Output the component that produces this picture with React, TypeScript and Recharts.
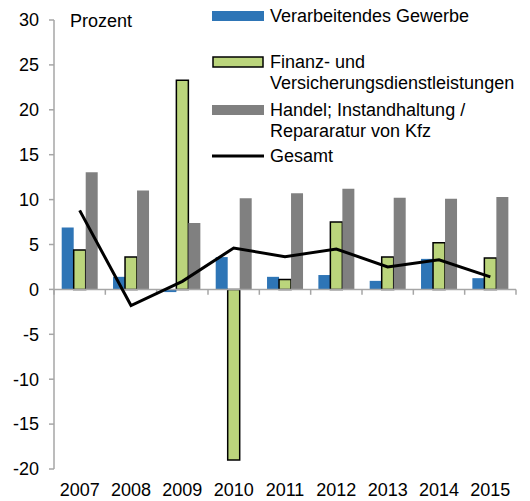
import {
  ComposedChart,
  Bar,
  Line,
  XAxis,
  YAxis,
  ReferenceLine,
} from 'recharts'

const years = ['2007', '2008', '2009', '2010', '2011', '2012', '2013', '2014', '2015']
const verarbeitend = [6.9, 1.4, -0.3, 3.6, 1.4, 1.6, 0.95, 3.4, 1.25]
const finanz = [4.4, 3.6, 23.3, -19.0, 1.1, 7.5, 3.6, 5.2, 3.5]
const handel = [13.05, 11.0, 7.4, 10.15, 10.7, 11.2, 10.2, 10.1, 10.3]
const gesamt = [8.8, -1.8, 0.9, 4.6, 3.65, 4.5, 2.5, 3.3, 1.4]
const yTicks = [-20, -15, -10, -5, 0, 5, 10, 15, 20, 25, 30]

const legendItems = [
  { key: 'verarbeitend', lines: ['Verarbeitendes Gewerbe'] },
  { key: 'finanz', lines: ['Finanz- und', 'Versicherungsdienstleistungen'] },
  { key: 'handel', lines: ['Handel; Instandhaltung /', 'Repararatur von Kfz'] },
  { key: 'gesamt', lines: ['Gesamt'] },
]

const BLUE = '#2E75B6'
const GREEN = '#BBD57C'
const GRAY = '#808080'
const AXIS = '#A6A6A6'
const FONT = 'Arial, "Liberation Sans", sans-serif'

const data = years.map((year, i) => ({
  year,
  verarbeitend: verarbeitend[i],
  finanz: finanz[i],
  handel: handel[i],
  gesamt: gesamt[i],
}))

// excel-style legend, placed by hand at the top right
const ChartLegend = () => {
  const rows = [16, 62, 110, 156]
  return (
    <svg
      width={530}
      height={180}
      style={{ position: 'absolute', left: 0, top: 0, pointerEvents: 'none' }}
    >
      <text x={70} y={27} fontSize={18} fill="#000" fontFamily={FONT}>Prozent</text>
      {legendItems.map((item, i) => {
        const cy = rows[i]
        let swatch
        if (item.key === 'gesamt') {
          swatch = <line x1={212} x2={264} y1={cy} y2={cy} stroke="#000" strokeWidth={3} />
        } else if (item.key === 'finanz') {
          swatch = <rect x={213} y={cy - 5} width={50} height={10} fill={GREEN} stroke="#000" strokeWidth={1.5} />
        } else {
          swatch = <rect x={212} y={cy - 5} width={52} height={10} fill={item.key === 'handel' ? GRAY : BLUE} />
        }
        return (
          <g key={item.key}>
            {swatch}
            {item.lines.map((ln, j) => (
              <text key={j} x={270} y={cy + 6 + j * 21} fontSize={18} fill="#000" fontFamily={FONT}>
                {ln}
              </text>
            ))}
          </g>
        )
      })}
    </svg>
  )
}

export default function App() {
  return (
    <div style={{ position: 'absolute', left: 0, top: 0, width: 530, height: 501, background: '#fff' }}>
      <ComposedChart
        width={530}
        height={501}
        data={data}
        margin={{ top: 20, right: 14, bottom: 0, left: 0 }}
        barGap={0}
        barCategoryGap="15%"
      >
        <XAxis
          dataKey="year"
          axisLine={false}
          tickLine={false}
          tickSize={6}
          tickMargin={8}
          height={32}
          interval={0}
          tick={{ fill: '#000', fontSize: 18, fontFamily: FONT }}
        />
        <YAxis
          domain={[-20, 30]}
          ticks={yTicks}
          width={54}
          interval={0}
          axisLine={{ stroke: AXIS, strokeWidth: 1.5 }}
          tickLine={{ stroke: AXIS, strokeWidth: 1.5 }}
          tickSize={5}
          tickMargin={10}
          tick={{ fill: '#000', fontSize: 18, fontFamily: FONT }}
        />
        <ReferenceLine y={0} stroke={AXIS} strokeWidth={1.5} />
        {years.map((y) => (
          <ReferenceLine
            key={y}
            segment={[{ x: y, y: 0 }, { x: y, y: -0.6 }]}
            position="start"
            stroke={AXIS}
            strokeWidth={1.5}
          />
        ))}
        <ReferenceLine
          segment={[{ x: '2015', y: 0 }, { x: '2015', y: -0.6 }]}
          position="end"
          stroke={AXIS}
          strokeWidth={1.5}
        />
        <Bar dataKey="verarbeitend" fill={BLUE} isAnimationActive={false} />
        <Bar dataKey="finanz" fill={GREEN} stroke="#000" strokeWidth={1.5} isAnimationActive={false} />
        <Bar dataKey="handel" fill={GRAY} isAnimationActive={false} />
        <Line
          dataKey="gesamt"
          stroke="#000"
          strokeWidth={3}
          dot={false}
          activeDot={false}
          isAnimationActive={false}
        />
      </ComposedChart>
      <ChartLegend />
    </div>
  )
}
